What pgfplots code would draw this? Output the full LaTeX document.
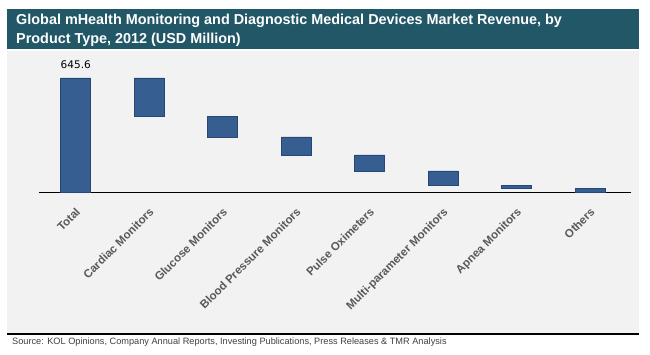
\documentclass[border=0pt]{standalone}
\usepackage{fontspec}
\setmainfont{Liberation Sans}
\newfontfamily\dejavu{DejaVu Sans}
\usepackage{pgfplots}
\pgfplotsset{compat=1.18}
\definecolor{titlebar}{RGB}{33,87,102}
\definecolor{panel}{RGB}{242,242,242}
\definecolor{barblue}{RGB}{54,94,145}
\definecolor{baredge}{RGB}{38,72,120}
\definecolor{ticktext}{RGB}{89,89,89}
\definecolor{sourcetext}{RGB}{64,64,64}
\definecolor{baseline}{RGB}{217,217,217}
\begin{document}
\begin{tikzpicture}
\fill[white] (0pt,0pt) rectangle (650pt,-355pt);
\fill[titlebar] (7pt,-9pt) rectangle (639pt,-49pt);
\fill[panel] (7pt,-51pt) rectangle (639pt,-333pt);
\draw[black, line width=2pt] (7pt,-334pt) -- (639pt,-334pt);
\node[anchor=base west, text=white, font=\bfseries\fontsize{14.4}{18}\selectfont, inner sep=0pt] at (16pt,-25pt) {Global mHealth Monitoring and Diagnostic Medical Devices Market Revenue, by};
\node[anchor=base west, text=white, font=\bfseries\fontsize{14.4}{18}\selectfont, inner sep=0pt] at (16pt,-43.3pt) {Product Type, 2012 (USD Million)};
\node[anchor=base west, font=\fontsize{9.2}{10}\selectfont, text=sourcetext, inner sep=0pt] at (12pt,-344pt) {Source: KOL Opinions, Company Annual Reports, Investing Publications, Press Releases \& TMR Analysis};
\begin{axis}[
  at={(39pt,-192pt)}, anchor=south west,
  scale only axis, width=588pt, height=142pt,
  xmin=-0.5, xmax=7.5, ymin=0, ymax=804,
  axis line style={draw=none},
  ytick=\empty,
  xtick={0,...,7},
  xticklabels={Total,Cardiac Monitors,Glucose Monitors,Blood Pressure Monitors,Pulse Oximeters,Multi-parameter Monitors,Apnea Monitors,Others},
  major tick length=0pt,
  xticklabel style={rotate=45, anchor=north east, font=\bfseries\fontsize{11.5}{13}\selectfont, text=ticktext, inner sep=1pt, yshift=-9pt, xshift=-10pt},
  ybar stacked, bar width=30pt,
  clip=false,
]
\addplot[draw=none, fill=none] coordinates {(0,0) (1,429.6) (2,311.6) (3,210.6) (4,119.6) (5,35.6) (6,18.6) (7,0)};
\addplot[fill=barblue, draw=baredge, line width=0.6pt] coordinates {(0,645.6) (1,216) (2,118) (3,101) (4,91) (5,84) (6,17) (7,18.6)};
\draw[baseline, line width=1pt] (rel axis cs:0,0) -- (rel axis cs:1.007,0);
\node[anchor=south, font=\dejavu\fontsize{10.5}{12}\selectfont, inner sep=0pt] at (axis cs:0,645.6) [yshift=9pt] {645.6};
\end{axis}
\end{tikzpicture}
\end{document}
